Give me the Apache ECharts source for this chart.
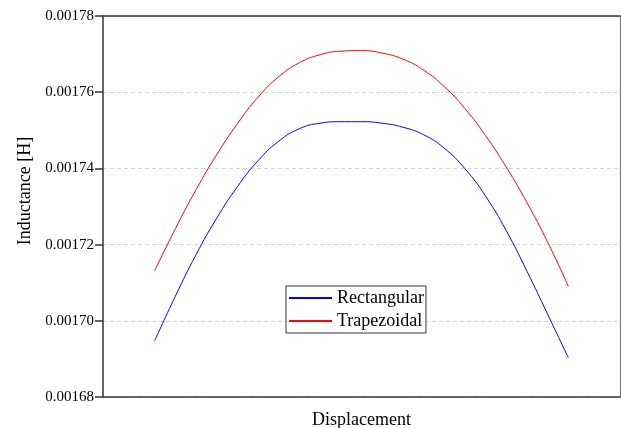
<!DOCTYPE html>
<html>
<head>
<meta charset="utf-8">
<script src="https://cdn.jsdelivr.net/npm/echarts@6/dist/echarts.min.js"></script>
<style>
html,body{margin:0;padding:0;background:#fff;}
#c{width:621px;height:428px;}
</style>
</head>
<body>
<div id="c"></div>
<script>
var displacement = [0,2,4,6,8,10,12,14,16,18,20,22,24,26,28,30,32,34,36,38,40];
var rectangular = [0.00169478,0.00170646,0.00171735,0.00172693,0.00173520,0.00174202,0.00174714,0.00175042,0.00175186,0.00175226,0.00175226,0.00175186,0.00175081,0.00174885,0.00174530,0.00173992,0.00173270,0.00172365,0.00171302,0.00170173,0.00169031];
var trapezoidal = [0.00171315,0.00172417,0.00173441,0.00174360,0.00175173,0.00175869,0.00176407,0.00176774,0.00176984,0.00177076,0.00177092,0.00177026,0.00176869,0.00176580,0.00176147,0.00175570,0.00174861,0.00174034,0.00173102,0.00172066,0.00170908];
var seriesNames = ['Rectangular','Trapezoidal'];
var yTicks = [0.00168,0.00170,0.00172,0.00174,0.00176,0.00178];

function pairs(xs, ys){ return xs.map(function(x,i){ return [x, ys[i]]; }); }

var font = '"Liberation Serif", "Times New Roman", serif';
var chart = echarts.init(document.getElementById('c'), null, {renderer:'canvas'});
chart.setOption({
  animation:false,
  backgroundColor:'#fff',
  grid:{left:103, right:1, top:16, bottom:31, containLabel:false, outerBoundsMode:'none'},
  legend:{
    data:seriesNames,
    orient:'vertical',
    left:286, top:286,
    padding:[2,2,2,2],
    itemGap:3,
    itemWidth:43,
    itemHeight:20,
    itemStyle:{opacity:0},
    backgroundColor:'#fff',
    borderColor:'#333',
    borderWidth:1,
    borderRadius:0,
    textStyle:{fontFamily:font, fontSize:18, color:'#000', lineHeight:20}
  },
  xAxis:[{
    type:'value', min:-5, max:45,
    name:'Displacement', nameLocation:'middle', nameGap:14,
    nameTextStyle:{fontFamily:font, fontSize:18, color:'#000'},
    axisLine:{show:true, onZero:false, lineStyle:{color:'#333', width:1.5}},
    axisTick:{show:false}, axisLabel:{show:false}, splitLine:{show:false}
  },{
    type:'value', min:-5, max:45, position:'top',
    axisLine:{show:true, onZero:false, lineStyle:{color:'#333', width:1.5}},
    axisTick:{show:false}, axisLabel:{show:false}, splitLine:{show:false}
  }],
  yAxis:[{
    type:'value', min:yTicks[0], max:yTicks[yTicks.length-1], interval:0.00002,
    name:'Inductance [H]', nameLocation:'middle', nameGap:67,
    nameTextStyle:{fontFamily:font, fontSize:18, color:'#000', padding:[0,0,0,31]},
    axisLine:{show:true, onZero:false, lineStyle:{color:'#333', width:1.5}},
    axisTick:{show:true, inside:false, length:8, lineStyle:{color:'#333', width:1.5}},
    axisLabel:{margin:9, fontFamily:font, fontSize:15, color:'#000',
      formatter:function(v){ return v.toFixed(5); }},
    splitLine:{show:true, lineStyle:{color:'#d4d4d4', type:[4,3], width:1}}
  },{
    type:'value', min:yTicks[0], max:yTicks[yTicks.length-1], interval:0.00002, position:'right',
    axisLine:{show:true, onZero:false, lineStyle:{color:'#777', width:1.2}},
    axisTick:{show:false}, axisLabel:{show:false}, splitLine:{show:false}
  }],
  series:[{
    name:seriesNames[0], type:'line', smooth:0.5, symbol:'none',
    lineStyle:{color:'#0000ff', width:1}, itemStyle:{color:'#0000ff'},
    data:pairs(displacement, rectangular)
  },{
    name:seriesNames[1], type:'line', smooth:0.5, symbol:'none',
    lineStyle:{color:'#ff0000', width:1}, itemStyle:{color:'#ff0000'},
    data:pairs(displacement, trapezoidal)
  }]
});
</script>
</body>
</html>
